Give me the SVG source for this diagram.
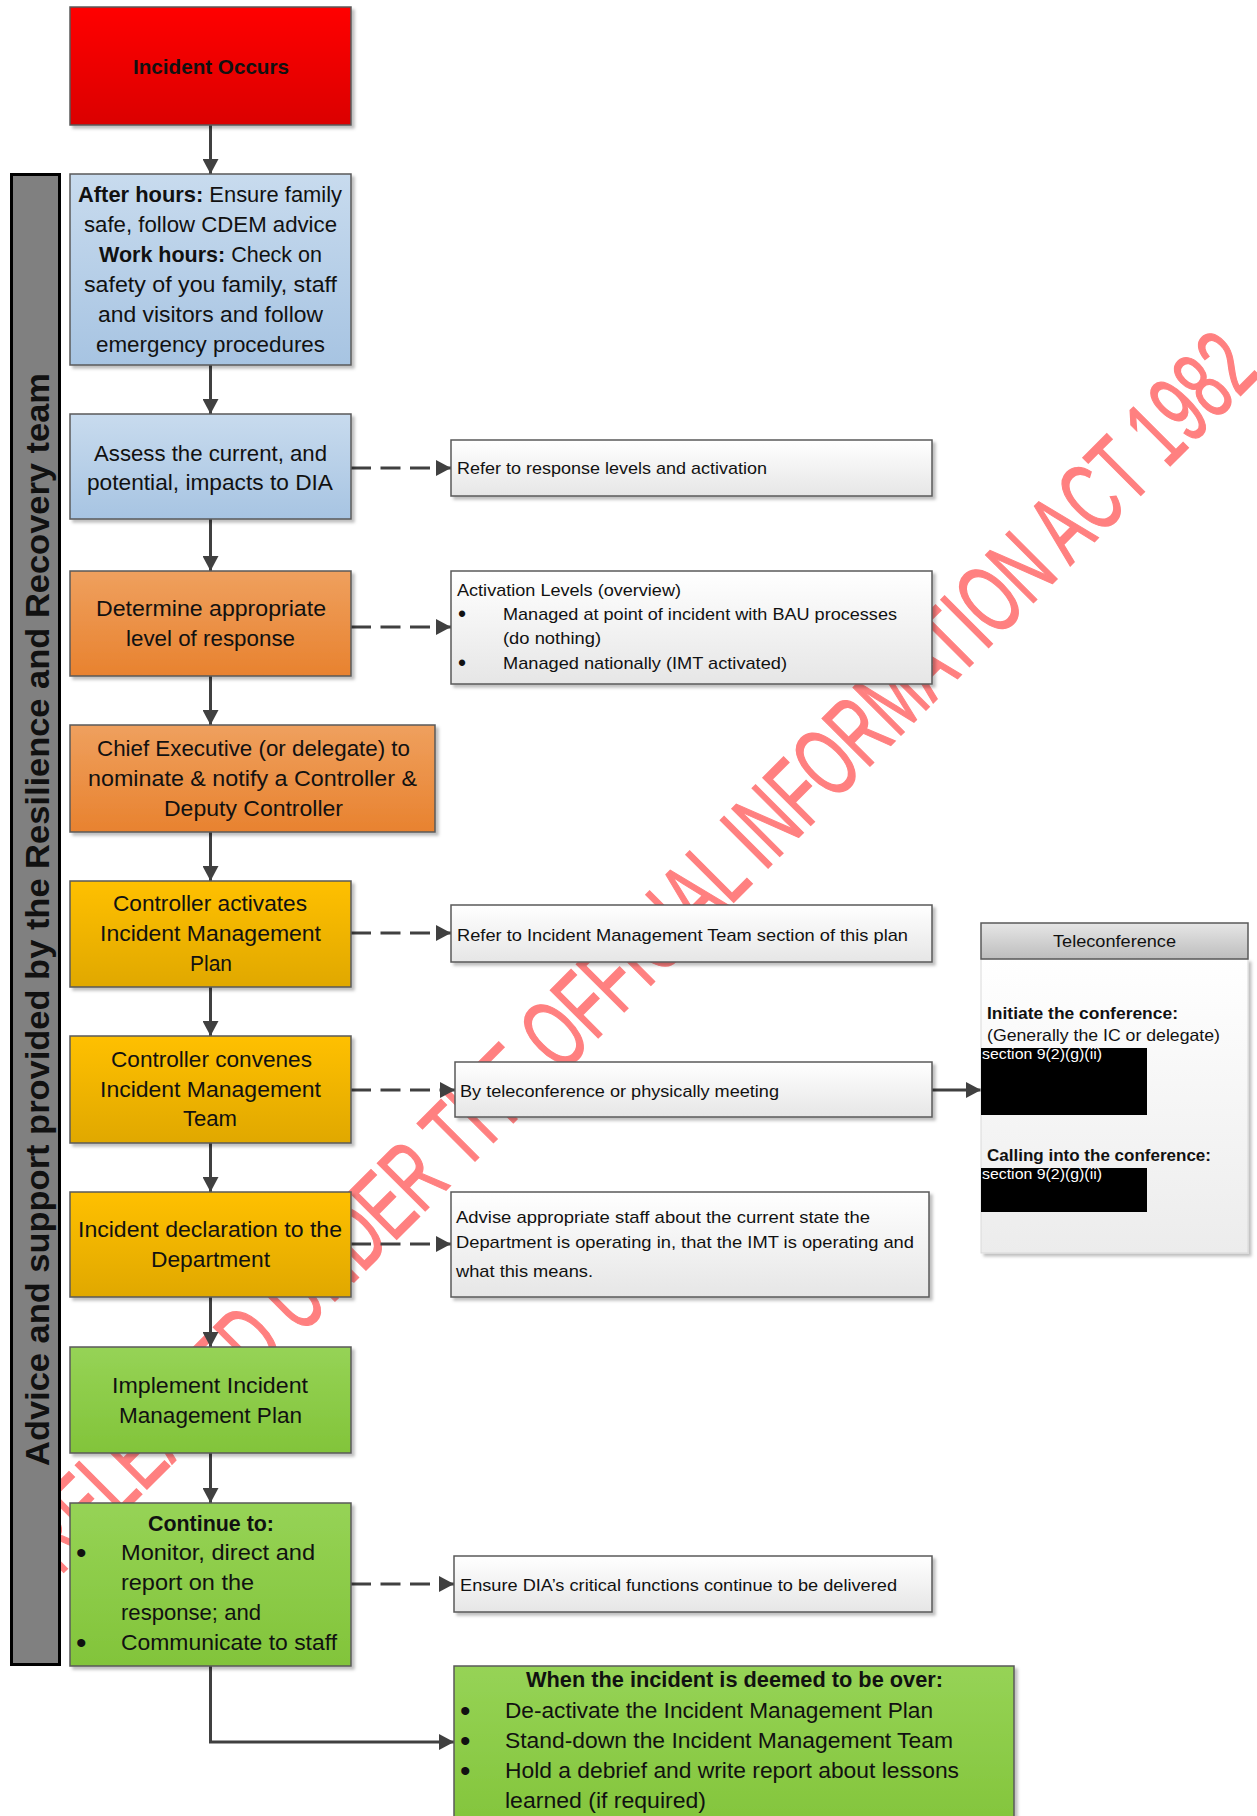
<svg xmlns="http://www.w3.org/2000/svg" width="1257" height="1816" viewBox="0 0 1257 1816">
<defs>
<style>
.t{font-family:'Liberation Sans',Arial,sans-serif;fill:#111}
.m{font-size:22px}
.s{font-size:17px}
.b{font-weight:bold}
.bl{font-family:'Liberation Sans',Arial,sans-serif;fill:#111}
.box{stroke:#595959;stroke-width:1.5}
.c{stroke:#404040;stroke-width:3;fill:none}
.d{stroke:#404040;stroke-width:3;fill:none;stroke-dasharray:20 9.5}
</style>
<linearGradient id="gRed" x1="0" y1="0" x2="0" y2="1"><stop offset="0" stop-color="#ff0000"/><stop offset="1" stop-color="#db0000"/></linearGradient>
<linearGradient id="gBlue" x1="0" y1="0" x2="0" y2="1"><stop offset="0" stop-color="#c8dbee"/><stop offset="1" stop-color="#a7c4e2"/></linearGradient>
<linearGradient id="gOr" x1="0" y1="0" x2="0" y2="1"><stop offset="0" stop-color="#efa05e"/><stop offset="1" stop-color="#e8822f"/></linearGradient>
<linearGradient id="gGold" x1="0" y1="0" x2="0" y2="1"><stop offset="0" stop-color="#ffc000"/><stop offset="1" stop-color="#e0a800"/></linearGradient>
<linearGradient id="gGreen" x1="0" y1="0" x2="0" y2="1"><stop offset="0" stop-color="#96d356"/><stop offset="1" stop-color="#82c43a"/></linearGradient>
<linearGradient id="gWhite" x1="0" y1="0" x2="0" y2="1"><stop offset="0" stop-color="#ffffff"/><stop offset="1" stop-color="#e6e6e6"/></linearGradient>
<linearGradient id="gHead" x1="0" y1="0" x2="0" y2="1"><stop offset="0" stop-color="#e6e6e6"/><stop offset="1" stop-color="#bdbdbd"/></linearGradient>
<linearGradient id="gBody" x1="0" y1="0" x2="0" y2="1"><stop offset="0" stop-color="#ffffff"/><stop offset="1" stop-color="#ececec"/></linearGradient>
<filter id="sh" x="-10%" y="-10%" width="130%" height="130%"><feDropShadow dx="3" dy="3" stdDeviation="1.5" flood-color="#000" flood-opacity="0.25"/></filter>
<marker id="ah" viewBox="0 0 10 10" refX="10" refY="5" markerWidth="15" markerHeight="16" markerUnits="userSpaceOnUse" orient="auto" preserveAspectRatio="none"><path d="M0,0 L10,5 L0,10 z" fill="#404040"/></marker>
</defs>
<rect x="0" y="0" width="1257" height="1816" fill="#ffffff"/>

<g id="watermark">
<text transform="translate(60,1576) rotate(-45)" font-family="'Liberation Sans',Arial,sans-serif" font-size="98" fill="#ff8080" stroke="#ff8080" stroke-width="1.5" textLength="1700" lengthAdjust="spacingAndGlyphs">RELEASED UNDER THE OFFICIAL INFORMATION ACT 1982</text>
</g>

<g id="sidebar">
<rect x="11.5" y="174.5" width="48" height="1490" fill="#808080" stroke="#000" stroke-width="3"/>
<text class="t b" font-size="34" text-anchor="middle" transform="translate(49,919.5) rotate(-90)" textLength="1093" lengthAdjust="spacingAndGlyphs">Advice and support provided by the Resilience and Recovery team</text>
</g>

<g id="connectors">
<line class="c" x1="210.5" y1="125" x2="210.5" y2="174" marker-end="url(#ah)"/>
<line class="c" x1="210.5" y1="365" x2="210.5" y2="414" marker-end="url(#ah)"/>
<line class="c" x1="210.5" y1="519" x2="210.5" y2="571" marker-end="url(#ah)"/>
<line class="c" x1="210.5" y1="676" x2="210.5" y2="725" marker-end="url(#ah)"/>
<line class="c" x1="210.5" y1="832" x2="210.5" y2="881" marker-end="url(#ah)"/>
<line class="c" x1="210.5" y1="987" x2="210.5" y2="1036" marker-end="url(#ah)"/>
<line class="c" x1="210.5" y1="1143" x2="210.5" y2="1192" marker-end="url(#ah)"/>
<line class="c" x1="210.5" y1="1297" x2="210.5" y2="1347" marker-end="url(#ah)"/>
<line class="c" x1="210.5" y1="1453" x2="210.5" y2="1503" marker-end="url(#ah)"/>
<path class="c" d="M210.5,1666 V1742 H454" marker-end="url(#ah)"/>
<line class="d" x1="351" y1="468" x2="451" y2="468" marker-end="url(#ah)"/>
<line class="d" x1="351" y1="627" x2="451" y2="627" marker-end="url(#ah)"/>
<line class="d" x1="351" y1="933" x2="451" y2="933" marker-end="url(#ah)"/>
<line class="d" x1="351" y1="1090" x2="455" y2="1090" marker-end="url(#ah)"/>
<line class="d" x1="351" y1="1244" x2="451" y2="1244" marker-end="url(#ah)"/>
<line class="d" x1="351" y1="1584" x2="454" y2="1584" marker-end="url(#ah)"/>
<line class="c" x1="932" y1="1090" x2="981" y2="1090" marker-end="url(#ah)"/>
</g>

<g id="n-incident">
<rect class="box" x="70" y="7" width="281" height="118" fill="url(#gRed)" filter="url(#sh)"/>
<text class="t b" font-size="20.5" x="133" y="74" textLength="156" lengthAdjust="spacingAndGlyphs">Incident Occurs</text>
</g>

<g id="n-afterhours">
<rect class="box" x="70" y="174" width="281" height="191" fill="url(#gBlue)" filter="url(#sh)"/>
<text class="t m" x="78" y="202" textLength="264" lengthAdjust="spacingAndGlyphs"><tspan class="b">After hours:</tspan> Ensure family</text>
<text class="t m" x="84" y="232" textLength="253" lengthAdjust="spacingAndGlyphs">safe, follow CDEM advice</text>
<text class="t m" x="99" y="262" textLength="223" lengthAdjust="spacingAndGlyphs"><tspan class="b">Work hours:</tspan> Check on</text>
<text class="t m" x="84" y="292" textLength="253" lengthAdjust="spacingAndGlyphs">safety of you family, staff</text>
<text class="t m" x="98" y="322" textLength="225" lengthAdjust="spacingAndGlyphs">and visitors and follow</text>
<text class="t m" x="96" y="352" textLength="229" lengthAdjust="spacingAndGlyphs">emergency procedures</text>
</g>

<g id="n-assess">
<rect class="box" x="70" y="414" width="281" height="105" fill="url(#gBlue)" filter="url(#sh)"/>
<text class="t m" x="94" y="461" textLength="233" lengthAdjust="spacingAndGlyphs">Assess the current, and</text>
<text class="t m" x="87" y="490" textLength="246" lengthAdjust="spacingAndGlyphs">potential, impacts to DIA</text>
</g>

<g id="n-determine">
<rect class="box" x="70" y="571" width="281" height="105" fill="url(#gOr)" filter="url(#sh)"/>
<text class="t m" x="96" y="616" textLength="230" lengthAdjust="spacingAndGlyphs">Determine appropriate</text>
<text class="t m" x="126" y="646" textLength="169" lengthAdjust="spacingAndGlyphs">level of response</text>
</g>

<g id="n-chief">
<rect class="box" x="70" y="725" width="365" height="107" fill="url(#gOr)" filter="url(#sh)"/>
<text class="t m" x="97" y="756" textLength="313" lengthAdjust="spacingAndGlyphs">Chief Executive (or delegate) to</text>
<text class="t m" x="88" y="786" textLength="329" lengthAdjust="spacingAndGlyphs">nominate &amp; notify a Controller &amp;</text>
<text class="t m" x="164" y="816" textLength="179" lengthAdjust="spacingAndGlyphs">Deputy Controller</text>
</g>

<g id="n-activates">
<rect class="box" x="70" y="881" width="281" height="106" fill="url(#gGold)" filter="url(#sh)"/>
<text class="t m" x="113" y="911" textLength="194" lengthAdjust="spacingAndGlyphs">Controller activates</text>
<text class="t m" x="100" y="941" textLength="221" lengthAdjust="spacingAndGlyphs">Incident Management</text>
<text class="t m" x="190" y="971" textLength="42" lengthAdjust="spacingAndGlyphs">Plan</text>
</g>

<g id="n-convenes">
<rect class="box" x="70" y="1036" width="281" height="107" fill="url(#gGold)" filter="url(#sh)"/>
<text class="t m" x="111" y="1067" textLength="201" lengthAdjust="spacingAndGlyphs">Controller convenes</text>
<text class="t m" x="100" y="1097" textLength="221" lengthAdjust="spacingAndGlyphs">Incident Management</text>
<text class="t m" x="183" y="1126" textLength="54" lengthAdjust="spacingAndGlyphs">Team</text>
</g>

<g id="n-declaration">
<rect class="box" x="70" y="1192" width="281" height="105" fill="url(#gGold)" filter="url(#sh)"/>
<text class="t m" x="78" y="1237" textLength="264" lengthAdjust="spacingAndGlyphs">Incident declaration to the</text>
<text class="t m" x="151" y="1267" textLength="119" lengthAdjust="spacingAndGlyphs">Department</text>
</g>

<g id="n-implement">
<rect class="box" x="70" y="1347" width="281" height="106" fill="url(#gGreen)" filter="url(#sh)"/>
<text class="t m" x="112" y="1393" textLength="196" lengthAdjust="spacingAndGlyphs">Implement Incident</text>
<text class="t m" x="119" y="1423" textLength="183" lengthAdjust="spacingAndGlyphs">Management Plan</text>
</g>

<g id="n-continue">
<rect class="box" x="70" y="1503" width="281" height="163" fill="url(#gGreen)" filter="url(#sh)"/>
<text class="t m b" x="148" y="1531" textLength="126" lengthAdjust="spacingAndGlyphs">Continue to:</text>
<text class="bl" font-size="30" x="76" y="1563">•</text>
<text class="t m" x="121" y="1560" textLength="194" lengthAdjust="spacingAndGlyphs">Monitor, direct and</text>
<text class="t m" x="121" y="1590" textLength="133" lengthAdjust="spacingAndGlyphs">report on the</text>
<text class="t m" x="121" y="1620" textLength="140" lengthAdjust="spacingAndGlyphs">response; and</text>
<text class="bl" font-size="30" x="76" y="1653">•</text>
<text class="t m" x="121" y="1650" textLength="216" lengthAdjust="spacingAndGlyphs">Communicate to staff</text>
</g>

<g id="n-refer-levels">
<rect class="box" x="451" y="440" width="481" height="56" fill="url(#gWhite)" filter="url(#sh)"/>
<text class="t s" x="457" y="474" textLength="310" lengthAdjust="spacingAndGlyphs">Refer to response levels and activation</text>
</g>

<g id="n-activation-levels">
<rect class="box" x="451" y="571" width="481" height="113" fill="url(#gWhite)" filter="url(#sh)"/>
<text class="t s" x="457" y="596" textLength="224" lengthAdjust="spacingAndGlyphs">Activation Levels (overview)</text>
<text class="bl" font-size="23" x="458" y="622">•</text>
<text class="t s" x="503" y="620" textLength="394" lengthAdjust="spacingAndGlyphs">Managed at point of incident with BAU processes</text>
<text class="t s" x="503" y="644" textLength="98" lengthAdjust="spacingAndGlyphs">(do nothing)</text>
<text class="bl" font-size="23" x="458" y="671">•</text>
<text class="t s" x="503" y="669" textLength="284" lengthAdjust="spacingAndGlyphs">Managed nationally (IMT activated)</text>
</g>

<g id="n-refer-imt">
<rect class="box" x="451" y="905" width="481" height="57" fill="url(#gWhite)" filter="url(#sh)"/>
<text class="t s" x="457" y="941" textLength="451" lengthAdjust="spacingAndGlyphs">Refer to Incident Management Team section of this plan</text>
</g>

<g id="n-teleconf-meeting">
<rect class="box" x="455" y="1062" width="477" height="55" fill="url(#gWhite)" filter="url(#sh)"/>
<text class="t s" x="460" y="1097" textLength="319" lengthAdjust="spacingAndGlyphs">By teleconference or physically meeting</text>
</g>

<g id="n-advise">
<rect class="box" x="451" y="1192" width="478" height="105" fill="url(#gWhite)" filter="url(#sh)"/>
<text class="t s" x="456" y="1223" textLength="414" lengthAdjust="spacingAndGlyphs">Advise appropriate staff about the current state the</text>
<text class="t s" x="456" y="1248" textLength="458" lengthAdjust="spacingAndGlyphs">Department is operating in, that the IMT is operating and</text>
<text class="t s" x="456" y="1277" textLength="137" lengthAdjust="spacingAndGlyphs">what this means.</text>
</g>

<g id="n-ensure">
<rect class="box" x="454" y="1556" width="478" height="56" fill="url(#gWhite)" filter="url(#sh)"/>
<text class="t s" x="460" y="1591" textLength="437" lengthAdjust="spacingAndGlyphs">Ensure DIA’s critical functions continue to be delivered</text>
</g>

<g id="n-over">
<rect class="box" x="454" y="1666" width="560" height="170" fill="url(#gGreen)" filter="url(#sh)"/>
<text class="t m b" x="526" y="1687" textLength="417" lengthAdjust="spacingAndGlyphs">When the incident is deemed to be over:</text>
<text class="bl" font-size="30" x="460" y="1721">•</text>
<text class="t m" x="505" y="1718" textLength="428" lengthAdjust="spacingAndGlyphs">De-activate the Incident Management Plan</text>
<text class="bl" font-size="30" x="460" y="1751">•</text>
<text class="t m" x="505" y="1748" textLength="448" lengthAdjust="spacingAndGlyphs">Stand-down the Incident Management Team</text>
<text class="bl" font-size="30" x="460" y="1781">•</text>
<text class="t m" x="505" y="1778" textLength="454" lengthAdjust="spacingAndGlyphs">Hold a debrief and write report about lessons</text>
<text class="t m" x="505" y="1808" textLength="201" lengthAdjust="spacingAndGlyphs">learned (if required)</text>
</g>

<g id="n-teleconference">
<rect x="981" y="959" width="267" height="294" fill="url(#gBody)" stroke="#d9d9d9" stroke-width="1" filter="url(#sh)"/>
<rect class="box" x="981" y="923" width="267" height="36" fill="url(#gHead)"/>
<text class="t" font-size="16" x="1053" y="947" textLength="123" lengthAdjust="spacingAndGlyphs">Teleconference</text>
<text class="t b" font-size="16.5" x="987" y="1019" textLength="191" lengthAdjust="spacingAndGlyphs">Initiate the conference:</text>
<text class="t" font-size="16.5" x="987" y="1041" textLength="233" lengthAdjust="spacingAndGlyphs">(Generally the IC or delegate)</text>
<rect x="981" y="1048" width="166" height="67" fill="#000"/>
<text font-family="'Liberation Sans',Arial,sans-serif" font-size="15" fill="#fff" x="982" y="1059" textLength="120" lengthAdjust="spacingAndGlyphs">section 9(2)(g)(ii)</text>
<text class="t b" font-size="16.5" x="987" y="1161" textLength="224" lengthAdjust="spacingAndGlyphs">Calling into the conference:</text>
<rect x="981" y="1168" width="166" height="44" fill="#000"/>
<text font-family="'Liberation Sans',Arial,sans-serif" font-size="15" fill="#fff" x="982" y="1179" textLength="120" lengthAdjust="spacingAndGlyphs">section 9(2)(g)(ii)</text>
</g>
</svg>
